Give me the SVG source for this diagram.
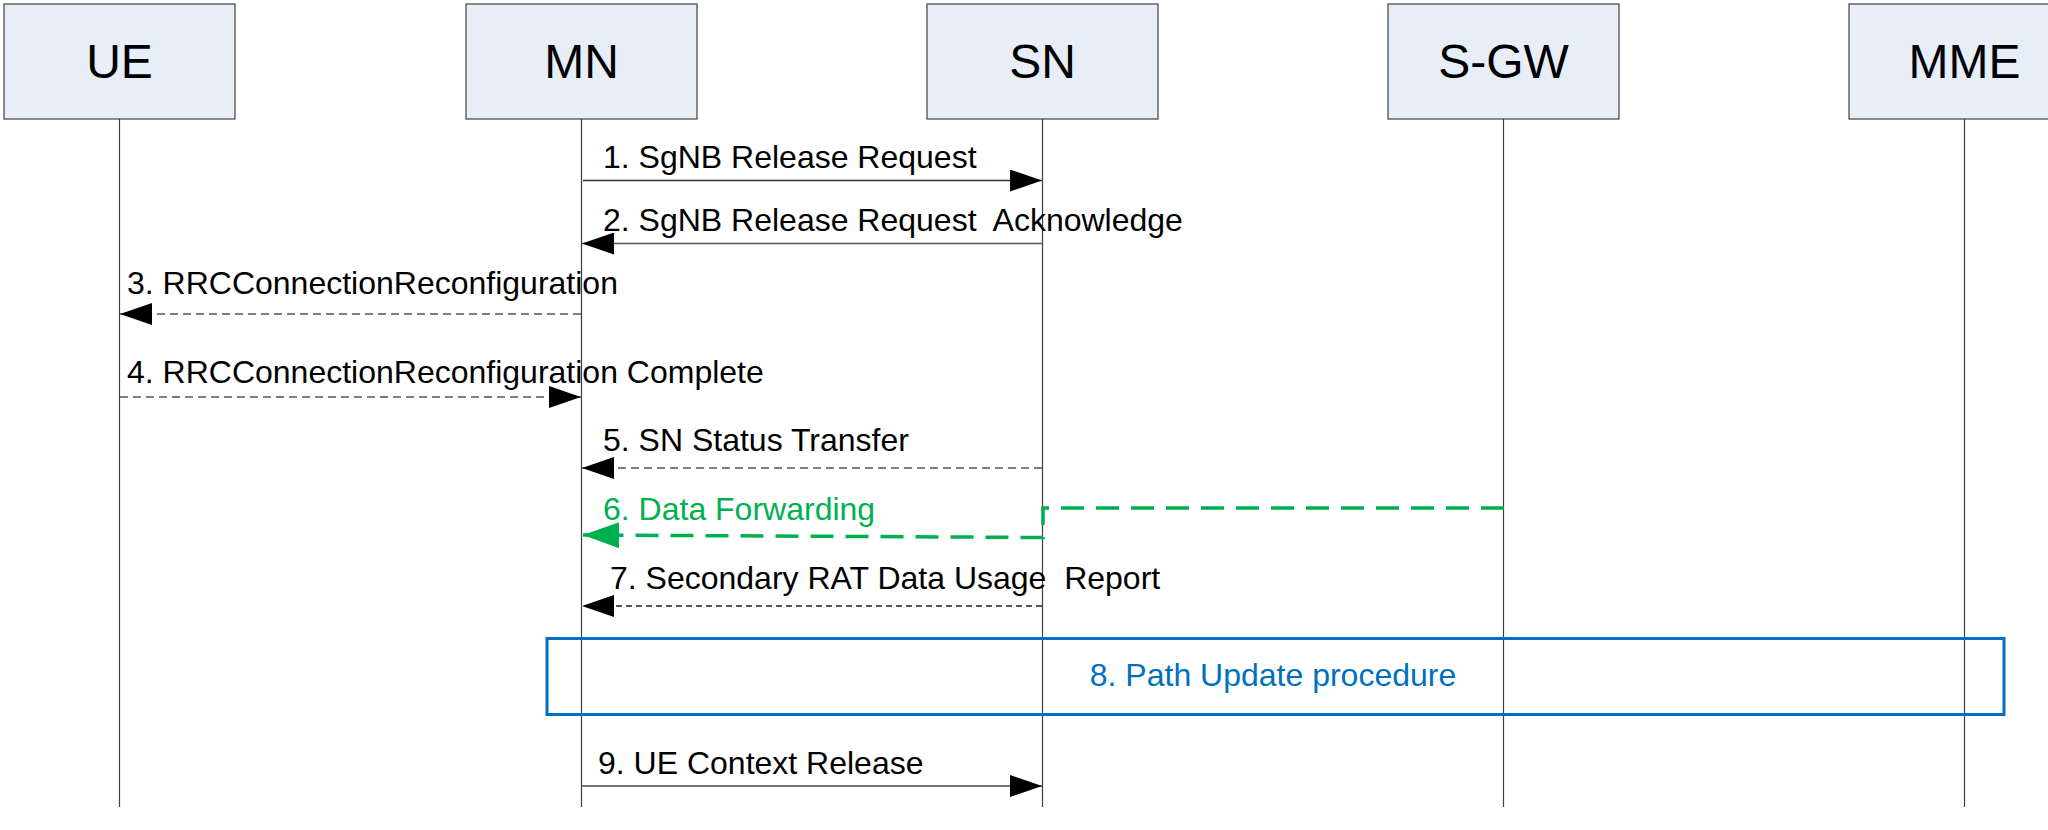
<svg xmlns="http://www.w3.org/2000/svg" width="2048" height="830" viewBox="0 0 2048 830">
<style>
.box{fill:#e7eef8;stroke:#404040;stroke-width:1.2}
.nlabel{font-family:"Liberation Sans",Arial,sans-serif;font-size:48px;fill:#000;text-anchor:middle}
.life{stroke:#404040;stroke-width:1.2;fill:none}
.msg{font-family:"Liberation Sans",Arial,sans-serif;font-size:32px;fill:#000}
.solid{stroke:#333;stroke-width:1.5;fill:none}
.dash{stroke:#555;stroke-width:1.5;fill:none;stroke-dasharray:8 5}
.dash2{stroke:#222;stroke-width:1.3;fill:none;stroke-dasharray:6 4}
.green{stroke:#00b050;stroke-width:3.5;fill:none;stroke-dasharray:23 12}
</style>
<defs>
<marker id="ah" markerUnits="userSpaceOnUse" markerWidth="32" markerHeight="22" refX="32" refY="11" orient="auto"><path d="M0,0 L32,11 L0,22 z" fill="#000"/></marker>
<marker id="ahg" markerUnits="userSpaceOnUse" markerWidth="36" markerHeight="26" refX="36" refY="13" orient="auto"><path d="M0,0 L36,13 L0,26 z" fill="#00b050"/></marker>
</defs>
<rect width="2048" height="830" fill="#fff"/>
<g id="lifelines">
<line class="life" x1="119.5" y1="119" x2="119.5" y2="807"/>
<line class="life" x1="581.5" y1="119" x2="581.5" y2="807"/>
<line class="life" x1="1042.5" y1="119" x2="1042.5" y2="807"/>
<line class="life" x1="1503.5" y1="119" x2="1503.5" y2="807"/>
<line class="life" x1="1964.5" y1="119" x2="1964.5" y2="807"/>
</g>
<g id="UE"><rect class="box" x="4" y="4" width="231" height="115"/><text class="nlabel" x="119.5" y="78">UE</text></g>
<g id="MN"><rect class="box" x="466" y="4" width="231" height="115"/><text class="nlabel" x="581.5" y="78">MN</text></g>
<g id="SN"><rect class="box" x="927" y="4" width="231" height="115"/><text class="nlabel" x="1042.5" y="78">SN</text></g>
<g id="SGW"><rect class="box" x="1388" y="4" width="231" height="115"/><text class="nlabel" x="1503.5" y="78">S-GW</text></g>
<g id="MME"><rect class="box" x="1849" y="4" width="231" height="115"/><text class="nlabel" x="1964.5" y="78">MME</text></g>
<g id="path-update"><rect x="547" y="638.5" width="1457" height="76" fill="none" stroke="#0070c0" stroke-width="3"/><text class="msg" x="1273" y="686" fill="#0070c0" style="fill:#0070c0" text-anchor="middle">8. Path Update procedure</text></g>
<g id="connectors">
<line class="solid" x1="583" y1="180.5" x2="1042" y2="180.5" marker-end="url(#ah)"/>
<line class="solid" x1="1042" y1="243.5" x2="582" y2="243.5" marker-end="url(#ah)" style="stroke:#555"/>
<line class="dash" x1="581" y1="314" x2="120" y2="314" marker-end="url(#ah)"/>
<line class="dash" x1="120" y1="397" x2="581" y2="397" marker-end="url(#ah)"/>
<line class="dash" x1="1042" y1="468" x2="582" y2="468" marker-end="url(#ah)"/>
<path class="green" d="M1504,508 L1043,508 L1043,537.5 L583,535" marker-end="url(#ahg)"/>
<line class="dash2" x1="1042" y1="606" x2="582" y2="606" marker-end="url(#ah)"/>
<line class="solid" x1="582" y1="786" x2="1042" y2="786" marker-end="url(#ah)" style="stroke:#777;stroke-width:2"/>
</g>
<g id="labels">
<text class="msg" x="603" y="168">1. SgNB Release Request</text>
<text class="msg" x="603" y="231" xml:space="preserve">2. SgNB Release Request  Acknowledge</text>
<text class="msg" x="127" y="294">3. RRCConnectionReconfiguration</text>
<text class="msg" x="127" y="383">4. RRCConnectionReconfiguration Complete</text>
<text class="msg" x="603" y="451">5. SN Status Transfer</text>
<text class="msg" x="603" y="520" style="fill:#00b050">6. Data Forwarding</text>
<text class="msg" x="610" y="589" xml:space="preserve">7. Secondary RAT Data Usage  Report</text>
<text class="msg" x="598" y="774">9. UE Context Release</text>
</g>
</svg>
